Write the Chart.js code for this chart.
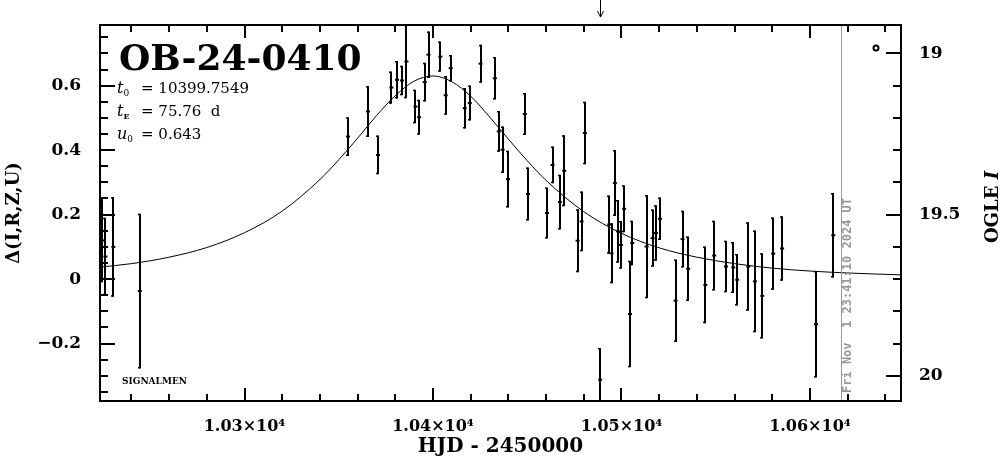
<!DOCTYPE html>
<html>
<head>
<meta charset="utf-8">
<script src="https://cdn.jsdelivr.net/npm/chart.js@4.4.1/dist/chart.umd.min.js"></script>
<style>
  html, body { margin: 0; padding: 0; background: #fff; }
  #wrap { width: 1004px; height: 459px; position: relative; }
</style>
</head>
<body>
<div id="wrap"><canvas id="lc"></canvas></div>
<script>
// OGLE photometry, HJD - 2450000 vs delta
const hjd = [10224.6, 10226.2, 10230.4, 10244.4, 10354.9, 10365.5, 10370.8, 10377.9, 10380.9, 10383.5,
  10385.9, 10390.7, 10392.6, 10395.6, 10397.6, 10403.9, 10406.7, 10409.4, 10416.8, 10419.5,
  10425.2, 10432.8, 10434.9, 10436.9, 10439.8, 10448.7, 10450.4, 10460.5, 10463.4, 10467.3,
  10469.6, 10476.7, 10478.8, 10480.6, 10488.7, 10493.5, 10494.7, 10496.5, 10498.2, 10499.7,
  10501.4, 10504.5, 10505.7, 10513.3, 10516.5, 10518.3, 10520.4, 10528.7, 10532.4, 10535.4,
  10544.5, 10549.2, 10555.4, 10559.3, 10561.4, 10567.3, 10570.8, 10574.7, 10580.5, 10585.2,
  10603.2, 10612.4];
const delta = [0.12, 0.07, 0.10, -0.037, 0.442, 0.52, 0.385, 0.594, 0.618, 0.616,
  0.675, 0.535, 0.502, 0.611, 0.696, 0.69, 0.57, 0.654, 0.53, 0.546,
  0.668, 0.623, 0.458, 0.401, 0.31, 0.512, 0.264, 0.205, 0.354, 0.239,
  0.336, 0.119, 0.179, 0.453, -0.312, 0.169, 0.08, 0.298, 0.148, 0.106,
  0.218, -0.108, 0.112, 0.101, 0.127, 0.143, 0.187, -0.067, 0.124, 0.032,
  -0.018, 0.073, 0.039, 0.036, -0.002, 0.039, -0.007, -0.052, 0.079, 0.095,
  -0.14, 0.136];
const errs = [0.13, 0.12, 0.155, 0.24, 0.06, 0.079, 0.06, 0.05, 0.058, 0.046,
  0.114, 0.052, 0.054, 0.06, 0.072, 0.047, 0.06, 0.041, 0.063, 0.054,
  0.059, 0.066, 0.063, 0.072, 0.088, 0.065, 0.082, 0.079, 0.057, 0.085,
  0.11, 0.098, 0.093, 0.097, 0.098, 0.09, 0.093, 0.102, 0.097, 0.074,
  0.073, 0.165, 0.069, 0.16, 0.089, 0.086, 0.066, 0.128, 0.088, 0.1,
  0.119, 0.108, 0.08, 0.079, 0.08, 0.137, 0.158, 0.132, 0.112, 0.10,
  0.165, 0.131];

// model curve
const modelT = [10223, 10240, 10260, 10280, 10300, 10320, 10340, 10350, 10360, 10370, 10380, 10390,
  10400, 10410, 10420, 10430, 10440, 10450, 10460, 10480, 10500, 10520, 10540, 10560,
  10580, 10600, 10620, 10649];
const modelD = [0.037, 0.048, 0.068, 0.098, 0.144, 0.211, 0.309, 0.370, 0.437, 0.507, 0.569, 0.614,
  0.630, 0.612, 0.567, 0.503, 0.434, 0.367, 0.306, 0.209, 0.142, 0.097, 0.068, 0.048,
  0.034, 0.025, 0.019, 0.013];

const xMin = 10223.3, xMax = 10648.3;
const yMin = -0.378, yMax = 0.788;
const baseMag = 19.70;          // OGLE I at delta = 0
const xLabelTicks = [10300, 10400, 10500, 10600];
const yLabelTicks = [-0.2, 0, 0.2, 0.4, 0.6];
const magLabelTicks = [19, 19.5, 20];
const nowHJD = 10616.49;
const arrowHJD = 10488.7;

const serif = "'DejaVu Serif', serif";

function near(v, list, eps) {
  return list.some(function (l) { return Math.abs(v - l) < eps; });
}

const frameAndTicks = {
  id: 'frameAndTicks',
  afterDatasetsDraw(chart) {
    const ctx = chart.ctx;
    const a = chart.chartArea;
    const sx = chart.scales.x, sy = chart.scales.y, sm = chart.scales.mag;
    ctx.save();

    // error bars
    ctx.save();
    ctx.beginPath();
    ctx.rect(a.left, a.top, a.right - a.left, a.bottom - a.top);
    ctx.clip();
    ctx.strokeStyle = '#000';
    ctx.lineWidth = 2;
    for (let i = 0; i < hjd.length; i++) {
      const px = Math.round(sx.getPixelForValue(hjd[i]));
      const y1 = sy.getPixelForValue(delta[i] + errs[i]);
      const y2 = sy.getPixelForValue(delta[i] - errs[i]);
      ctx.beginPath();
      ctx.moveTo(px, y1);
      ctx.lineTo(px, y2);
      ctx.stroke();
      ctx.lineWidth = 1.5;
      ctx.beginPath();
      ctx.moveTo(px - 2, y1 + 0.75); ctx.lineTo(px, y1 + 0.75);
      ctx.moveTo(px - 2, y2 - 0.75); ctx.lineTo(px, y2 - 0.75);
      ctx.stroke();
      ctx.lineWidth = 2;
    }
    ctx.restore();

    // "now" line
    const nx = Math.round(sx.getPixelForValue(nowHJD)) + 0.5;
    ctx.strokeStyle = '#999';
    ctx.lineWidth = 1;
    ctx.beginPath();
    ctx.moveTo(nx, a.top);
    ctx.lineTo(nx, a.bottom);
    ctx.stroke();
    ctx.save();
    ctx.translate(nx + 6, a.bottom - 8);
    ctx.rotate(-Math.PI / 2);
    ctx.fillStyle = '#999';
    ctx.font = "bold 12px 'DejaVu Sans Mono', monospace";
    ctx.textAlign = 'left';
    ctx.textBaseline = 'middle';
    ctx.fillText('Fri Nov  1 23:41:10 2024 UT', 0, 0);
    ctx.restore();

    // ticks (inside the frame)
    ctx.strokeStyle = '#000';
    ctx.lineWidth = 2;
    ctx.beginPath();
    sx.ticks.forEach(function (t) {
      const p = Math.round(sx.getPixelForValue(t.value));
      const len = near(t.value, xLabelTicks, 0.01) ? 13 : 7;
      ctx.moveTo(p, a.bottom); ctx.lineTo(p, a.bottom - len);
      ctx.moveTo(p, a.top); ctx.lineTo(p, a.top + len);
    });
    sy.ticks.forEach(function (t) {
      const p = Math.round(sy.getPixelForValue(t.value));
      const len = near(t.value, yLabelTicks, 1e-6) ? 15 : 8;
      ctx.moveTo(a.left, p); ctx.lineTo(a.left + len, p);
    });
    sm.ticks.forEach(function (t) {
      const p = Math.round(sm.getPixelForValue(t.value));
      const len = near(t.value, magLabelTicks, 1e-6) ? 15 : 8;
      ctx.moveTo(a.right, p); ctx.lineTo(a.right - len, p);
    });
    ctx.stroke();

    // frame
    ctx.lineWidth = 2;
    ctx.strokeRect(a.left, a.top, a.right - a.left, a.bottom - a.top);

    // arrow above the frame
    const ax = Math.round(sx.getPixelForValue(arrowHJD)) + 0.5;
    ctx.lineWidth = 1;
    ctx.beginPath();
    ctx.moveTo(ax, 0); ctx.lineTo(ax, a.top - 8);
    ctx.moveTo(ax - 3, a.top - 14); ctx.lineTo(ax, a.top - 8); ctx.lineTo(ax + 3, a.top - 14);
    ctx.stroke();

    // dataset symbol
    ctx.lineWidth = 2;
    ctx.beginPath();
    ctx.arc(a.right - 25, a.top + 23, 2.5, 0, Math.PI * 2);
    ctx.stroke();

    // event name and parameters
    ctx.fillStyle = '#000';
    ctx.textAlign = 'left';
    ctx.textBaseline = 'alphabetic';
    ctx.font = 'bold 36px ' + serif;
    ctx.fillText('OB-24-0410', a.left + 19, a.top + 45);

    const rows = [['t', '0', '= 10399.7549'], ['t', 'E', '= 75.76  d'], ['u', '0', '= 0.643']];
    rows.forEach(function (r, i) {
      const base = a.top + 68 + i * 23;
      let x = a.left + 17;
      ctx.font = 'italic 16px ' + serif;
      ctx.fillText(r[0], x, base);
      x += ctx.measureText(r[0]).width;
      ctx.font = (r[1] === 'E' ? 'bold 8px ' : '9px ') + serif;
      ctx.fillText(r[1], x, base + 3);
      ctx.font = '15px ' + serif;
      ctx.fillText(r[2], a.left + 41, base);
    });

    ctx.font = 'bold 9px ' + serif;
    ctx.fillText('SIGNALMEN', a.left + 22, a.bottom - 17);

    // right axis title, reading upward
    ctx.save();
    ctx.translate(chart.width - 11, (a.top + a.bottom) / 2);
    ctx.rotate(-Math.PI / 2);
    ctx.textBaseline = 'middle';
    ctx.font = 'bold 18px ' + serif;
    const w1 = ctx.measureText('OGLE ').width;
    ctx.font = 'bold italic 18px ' + serif;
    const w2 = ctx.measureText('I').width;
    ctx.font = 'bold 18px ' + serif;
    ctx.fillText('OGLE ', -(w1 + w2) / 2 + 6, 0);
    ctx.font = 'bold italic 18px ' + serif;
    ctx.fillText('I', -(w1 + w2) / 2 + 6 + w1, 0);
    ctx.restore();

    ctx.restore();
  }
};

new Chart(document.getElementById('lc'), {
  type: 'scatter',
  data: {
    datasets: [
      {
        type: 'line',
        data: modelT.map(function (t, i) { return { x: t, y: modelD[i] }; }),
        borderColor: '#000',
        borderWidth: 1,
        pointRadius: 0,
        cubicInterpolationMode: 'monotone',
        fill: false
      },
      {
        data: hjd.map(function (t, i) { return { x: t, y: delta[i] }; }),
        pointStyle: 'line',
        pointRadius: 2,
        borderColor: '#000',
        borderWidth: 2,
        backgroundColor: '#000'
      }
    ]
  },
  options: {
    responsive: true,
    maintainAspectRatio: false,
    animation: false,
    events: [],
    layout: { padding: { top: 25, left: 0, right: 0, bottom: 0 } },
    plugins: { legend: { display: false }, tooltip: { enabled: false } },
    scales: {
      x: {
        type: 'linear',
        position: 'bottom',
        min: xMin,
        max: xMax,
        afterFit: function (s) { s.height = 58; },
        grid: { display: false },
        border: { display: false },
        ticks: {
          stepSize: 20,
          includeBounds: false,
          autoSkip: false,
          maxRotation: 0,
          padding: 8,
          color: '#000',
          font: { family: serif, size: 16, weight: 'bold' },
          callback: function (v) {
            if (!near(v, xLabelTicks, 0.01)) return '';
            return (v / 10000).toFixed(2) + '×10⁴';
          }
        },
        title: {
          display: true,
          text: 'HJD - 2450000',
          color: '#000',
          font: { family: serif, size: 20, weight: 'bold' },
          padding: { top: 0, bottom: 0 }
        }
      },
      y: {
        position: 'left',
        min: yMin,
        max: yMax,
        afterFit: function (s) { s.width = 100; },
        grid: { display: false },
        border: { display: false },
        ticks: {
          stepSize: 0.05,
          includeBounds: false,
          autoSkip: false,
          padding: 11,
          color: '#000',
          font: { family: serif, size: 17, weight: 'bold' },
          callback: function (v) {
            if (!near(v, yLabelTicks, 1e-6)) return '';
            const r = Math.round(v * 10) / 10;
            if (r === 0) return '0';
            return (r < 0 ? '−' : '') + Math.abs(r).toFixed(1);
          }
        },
        title: {
          display: true,
          text: 'Δ(I,R,Z,U)',
          color: '#000',
          font: { family: serif, size: 18, weight: 'bold' },
          padding: { top: 4, bottom: 0 }
        }
      },
      mag: {
        position: 'right',
        reverse: true,
        min: baseMag - yMax,
        max: baseMag - yMin,
        afterFit: function (s) { s.width = 103; },
        grid: { display: false },
        border: { display: false },
        ticks: {
          stepSize: 0.1,
          includeBounds: false,
          autoSkip: false,
          padding: 10,
          color: '#000',
          font: { family: serif, size: 17, weight: 'bold' },
          callback: function (v) {
            if (!near(v, magLabelTicks, 1e-6)) return '';
            return String(Math.round(v * 10) / 10);
          }
        }
      }
    }
  },
  plugins: [frameAndTicks]
});
</script>
</body>
</html>
